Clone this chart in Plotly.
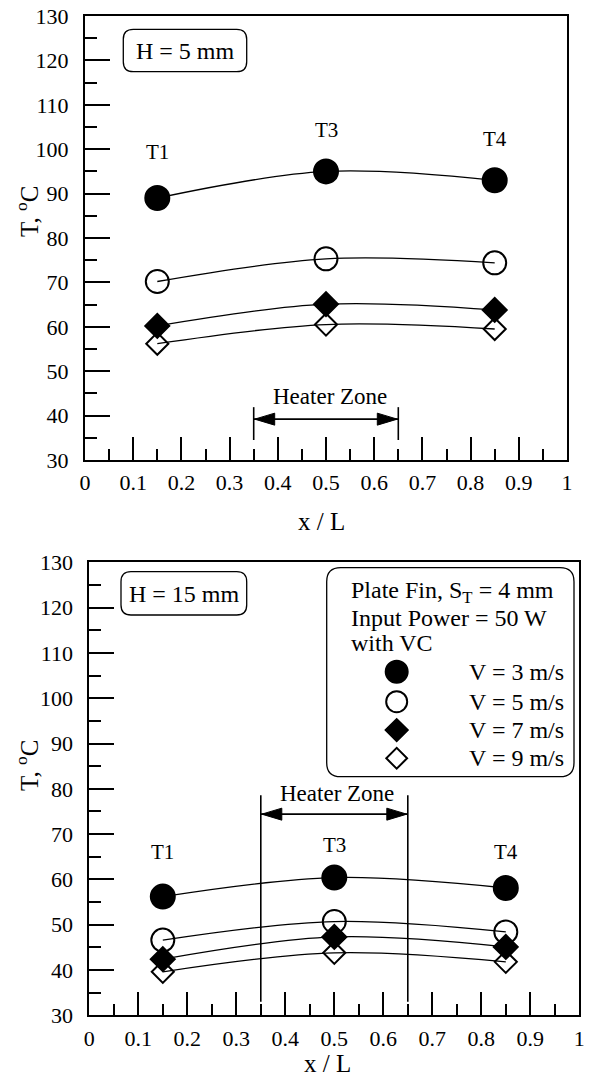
import plotly.graph_objects as go

# Thermocouple positions along the fin base (x / L)
positions = [0.15, 0.5, 0.85]
probe_labels = ["T1", "T3", "T4"]

velocity_labels = ["V = 3 m/s", "V = 5 m/s", "V = 7 m/s", "V = 9 m/s"]

# Measured temperatures (deg C), fin height H = 5 mm
h5_v3 = [89.0, 95.0, 93.0]
h5_v5 = [70.2, 75.3, 74.4]
h5_v7 = [60.2, 65.1, 63.8]
h5_v9 = [56.2, 60.5, 59.5]

# Measured temperatures (deg C), fin height H = 15 mm
h15_v3 = [56.2, 60.4, 58.1]
h15_v5 = [46.6, 50.7, 48.4]
h15_v7 = [42.4, 47.3, 45.1]
h15_v9 = [39.6, 43.8, 41.8]

W, H = 590, 1079
FONT = "Liberation Serif"

# marker style per velocity
symbols = ["circle", "circle-open", "diamond", "diamond-open"]
msizes = [24, 23, 18.5, 17]

def px_x(p):
    return p / W

def px_y(p):
    return 1 - p / H

fig = go.Figure()

panels = [
    ("x", "y", [h5_v3, h5_v5, h5_v7, h5_v9]),
    ("x2", "y2", [h15_v3, h15_v5, h15_v7, h15_v9]),
]

for xa, ya, series in panels:
    for vals in series:
        fig.add_trace(go.Scatter(
            x=positions, y=vals, mode="lines", xaxis=xa, yaxis=ya,
            line=dict(color="black", width=1.3, shape="spline"),
            showlegend=False, hoverinfo="skip"))
    for vals, sym, ms, name in zip(series, symbols, msizes, velocity_labels):
        fig.add_trace(go.Scatter(
            x=positions, y=vals, mode="markers", xaxis=xa, yaxis=ya,
            name=name, showlegend=False,
            marker=dict(symbol=sym, size=ms, color="black",
                        line=dict(color="black", width=2))))

# key symbols inside the legend box (drawn on a hidden overlay axis)
key_x = 0.283
key_rows = [0.502, 0.359, 0.223, 0.088]
for sym, ms, yy in zip(symbols, [22, 21, 17, 16], key_rows):
    fig.add_trace(go.Scatter(
        x=[key_x], y=[yy], mode="markers", xaxis="x3", yaxis="y3",
        showlegend=False, hoverinfo="skip",
        marker=dict(symbol=sym, size=ms, color="black",
                    line=dict(color="black", width=2))))

axis_common = dict(
    showline=True, mirror=True, linecolor="black", linewidth=2,
    showgrid=False, zeroline=False, ticks="inside", tickwidth=2,
    tickcolor="black", tickfont=dict(family=FONT, size=22, color="black"),
    automargin=False,
)

top_x = [px_x(85), px_x(567)]
top_y = [px_y(460), px_y(16)]
bot_x = [px_x(89.3), px_x(579.3)]
bot_y = [px_y(1015.3), px_y(562.3)]

xminor = dict(dtick=0.05, ticklen=11, ticks="inside", tickwidth=2, tickcolor="black")
yminor = dict(dtick=5, ticklen=12, ticks="inside", tickwidth=2, tickcolor="black")

fig.update_layout(
    width=W, height=H, margin=dict(l=0, r=0, t=0, b=0, pad=0),
    paper_bgcolor="white", plot_bgcolor="white",
    xaxis=dict(domain=top_x, anchor="y", range=[0, 1], dtick=0.1, ticklen=23,
               minor=xminor, ticklabelstandoff=2, **axis_common),
    yaxis=dict(domain=top_y, anchor="x", range=[30, 130], dtick=10, ticklen=25,
               minor=yminor, ticklabelstandoff=10, **axis_common),
    xaxis2=dict(domain=bot_x, anchor="y2", range=[0, 1], dtick=0.1, ticklen=23,
                minor=xminor, ticklabelstandoff=2, **axis_common),
    yaxis2=dict(domain=bot_y, anchor="x2", range=[30, 130], dtick=10, ticklen=25,
                minor=yminor, ticklabelstandoff=10, **axis_common),
    xaxis3=dict(domain=[px_x(326.7), px_x(574)], anchor="y3", range=[0, 1],
                visible=False, automargin=False),
    yaxis3=dict(domain=[px_y(776.7), px_y(567.7)], anchor="x3", range=[0, 1],
                visible=False, automargin=False),
)

def rounded_rect(x0, y0, x1, y1, r):
    # corners in pixels -> paper-space path with rounded corners
    X = lambda p: f"{px_x(p):.5f}"
    Y = lambda p: f"{px_y(p):.5f}"
    return (f"M {X(x0 + r)},{Y(y0)} L {X(x1 - r)},{Y(y0)} Q {X(x1)},{Y(y0)} {X(x1)},{Y(y0 + r)} "
            f"L {X(x1)},{Y(y1 - r)} Q {X(x1)},{Y(y1)} {X(x1 - r)},{Y(y1)} "
            f"L {X(x0 + r)},{Y(y1)} Q {X(x0)},{Y(y1)} {X(x0)},{Y(y1 - r)} "
            f"L {X(x0)},{Y(y0 + r)} Q {X(x0)},{Y(y0)} {X(x0 + r)},{Y(y0)} Z")

shapes = [
    dict(type="path", xref="paper", yref="paper", path=rounded_rect(123.3, 29.3, 246.7, 71.7, 10),
         line=dict(color="black", width=1.3)),
    dict(type="path", xref="paper", yref="paper", path=rounded_rect(121, 571.7, 246.7, 615, 10),
         line=dict(color="black", width=1.3)),
    dict(type="path", xref="paper", yref="paper", path=rounded_rect(326.7, 567.7, 574, 776.7, 14),
         line=dict(color="black", width=1.3)),
]

# heater zone markers: (x-axis, y-axis, tick bottom, tick top, arrow level)
heater = [("x", "y", 34.5, 41.9, 39.2), ("x2", "y2", 33.0, 78.6, 74.4)]
heater_start, heater_end = 0.35, 0.65
for xa, ya, yb, yt, ylev in heater:
    for xe in (heater_start, heater_end):
        shapes.append(dict(type="line", xref=xa, yref=ya, x0=xe, x1=xe, y0=yb, y1=yt,
                           line=dict(color="black", width=1.6)))
    shapes.append(dict(type="line", xref=xa, yref=ya, x0=heater_start, x1=heater_end,
                       y0=ylev, y1=ylev, line=dict(color="black", width=1.6)))
    # filled arrowheads at both ends
    shapes.append(dict(type="path", xref=xa, yref=ya, xsizemode="pixel", ysizemode="pixel",
                       xanchor=heater_start, yanchor=ylev,
                       path="M 1,0 L 21,6 L 21,-6 Z", fillcolor="black",
                       line=dict(color="black", width=1)))
    shapes.append(dict(type="path", xref=xa, yref=ya, xsizemode="pixel", ysizemode="pixel",
                       xanchor=heater_end, yanchor=ylev,
                       path="M -1,0 L -21,6 L -21,-6 Z", fillcolor="black",
                       line=dict(color="black", width=1)))

fig.update_layout(shapes=shapes)

txt = lambda s: dict(family=FONT, size=s, color="black")
ann = []

def label(**kw):
    kw.setdefault("xanchor", "center")
    kw.setdefault("yanchor", "middle")
    kw.setdefault("showarrow", False)
    ann.append(kw)

# probe labels
for xa, ya, ys in [("x", "y", [99.4, 104.3, 102.4]), ("x2", "y2", [66.1, 67.6, 66.1])]:
    for xp, lab, yv in zip(positions, probe_labels, ys):
        label(xref=xa, yref=ya, x=xp, y=yv, text=lab, font=txt(21))

label(xref="x", yref="y", x=0.508, y=44.3, text="Heater Zone", font=txt(23))
label(xref="x2", yref="y2", x=0.505, y=79.0, text="Heater Zone", font=txt(23))

# fin height labels
label(xref="paper", yref="paper", x=px_x(185), y=px_y(50.5), text="H = 5 mm", font=txt(24))
label(xref="paper", yref="paper", x=px_x(184), y=px_y(593.5), text="H = 15 mm", font=txt(24))

# axis titles
for yc in (212, 766):
    label(xref="paper", yref="paper", x=px_x(27), y=px_y(yc), text="T, <sup>o</sup>C",
          textangle=-90, font=txt(25))
for xc, yc in ((322, 521.7), (327, 1063)):
    label(xref="paper", yref="paper", x=px_x(xc), y=px_y(yc), text="x / L", font=txt(25))

# legend header lines
for line, yc in zip(["Plate Fin, S<sub>T</sub> = 4 mm", "Input Power = 50 W", "with VC"],
                    [591.7, 618, 643]):
    label(xref="paper", yref="paper", x=px_x(349), y=px_y(yc), text=line,
          xanchor="left", font=txt(24))
for lab, yy in zip(velocity_labels, key_rows):
    label(xref="x3", yref="y3", x=0.566, y=yy, text=lab, xanchor="left", font=txt(24))

fig.update_layout(annotations=ann)

fig.write_html("out.html")
